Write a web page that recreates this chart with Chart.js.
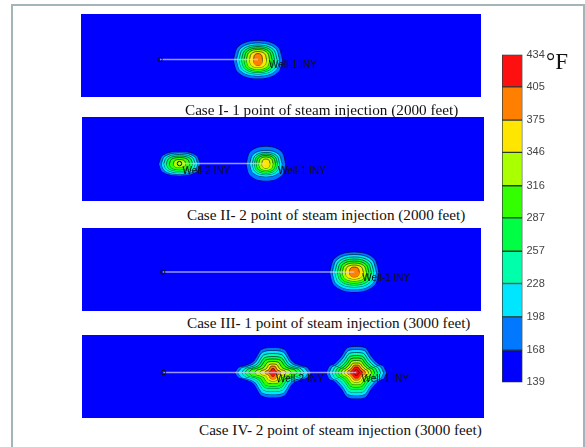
<!DOCTYPE html>
<html>
<head>
<meta charset="utf-8">
<script src="https://cdn.jsdelivr.net/npm/chart.js@4"></script>
<style>
  body { margin: 0; background: #fff; width: 585px; height: 447px; overflow: hidden; position: relative; }
  .frame { position: absolute; left: 11px; top: 4px; width: 570px; height: 460px; border: 2px solid #a3b5b8; }
  canvas { position: absolute; }
  .cap { position: absolute; font: 15.2px "Liberation Serif", "Times New Roman", serif; line-height: 15.2px; color: #111; white-space: nowrap; }
  .unit { position: absolute; left: 546px; top: 50px; font: 23px "Liberation Serif", serif; line-height: 23px; color: #111; }
</style>
</head>
<body>
<div class="frame"></div>

<canvas id="case1" width="400" height="83" style="left:81px;top:14px"></canvas>
<canvas id="case2" width="402" height="84" style="left:82px;top:117px"></canvas>
<canvas id="case3" width="399" height="83" style="left:82px;top:228px"></canvas>
<canvas id="case4" width="402" height="83" style="left:82px;top:335px"></canvas>
<canvas id="scale" width="56" height="349" style="left:497px;top:44px"></canvas>

<div class="cap" style="left:185px;top:102px">Case I- 1 point of steam injection (2000 feet)</div>
<div class="cap" style="left:187px;top:207px">Case II- 2 point of steam injection (2000 feet)</div>
<div class="cap" style="left:187px;top:315px">Case III- 1 point of steam injection (3000 feet)</div>
<div class="cap" style="left:199px;top:422px">Case IV- 2 point of steam injection (3000 feet)</div>
<div class="unit">°F</div>

<script>
// temperature levels (°F) and the colour of each band between two levels
const levels = [139, 168, 198, 228, 257, 287, 316, 346, 375, 405, 434];
const bandColors = ['#0000ff', '#0078ff', '#00e6ff', '#00ffaa', '#00ff44', '#33ff00',
    '#aaff00', '#ffe600', '#ff8000', '#ff1010'];

// shape of a hot zone: relative x position -> relative half height
const profileT = [-1, -0.9, -0.75, -0.5, -0.3, 0, 0.3, 0.5, 0.75, 0.9, 1];
const roundProfile = [0, 0.5, 0.74, 0.91, 0.97, 1, 0.97, 0.91, 0.74, 0.5, 0];
const crossProfile = [0, 0.2, 0.27, 0.46, 0.92, 1, 0.92, 0.46, 0.27, 0.2, 0];
const diamondProfile = [0, 0.24, 0.32, 0.62, 0.95, 1, 0.95, 0.62, 0.32, 0.24, 0];

// contour half widths / half heights for each level from 168 up (panel units)
const case1Rx = [24.5, 21.5, 19, 16.5, 14, 11.5, 8.5, 4.5];
const case1Ry = [19, 16.5, 14.5, 13, 11.5, 10, 8, 6];
const case2LeftRx = [20.5, 18, 15.5, 13, 10, 6];
const case2LeftRy = [12, 10.5, 9, 7.5, 6, 4];
const case2RightRx = [19.5, 16, 13.5, 11.5, 9.5, 7, 4];
const case2RightRy = [17, 13, 11, 9.5, 8, 6.5, 4.5];
const case3Rx = [24.5, 22, 19.5, 17, 14.5, 12, 9, 5];
const case3Ry = [20, 17.5, 15, 13, 11, 9, 7, 5];
const case4LeftRx = [38, 35, 31, 28, 24, 18, 13, 8, 4];
const case4LeftRy = [25, 22, 19, 16, 13.5, 11, 8.5, 6.5, 4];
const case4RightRx = [30, 27, 24, 21, 18, 15, 12, 9, 6, 3];
const case4RightRy = [26, 23, 20, 17, 14.5, 12, 9.5, 7.5, 5.5, 3];

// injection points, well start and label anchors (panel units, 400 x 83)
const case1Spots = [[177, 45.5]];
const case2Spots = [[97, 46], [183, 46]];
const case3Spots = [[273, 44]];
const case4Spots = [[190, 37.5], [273, 37.5]];
const wellStartX = [79, 97, 81, 81];
const case1Labels = [['Well-1 INY', 188, 51]];
const case2Labels = [['Well-2 INY', 100, 54], ['Well-1 INY', 195, 54]];
const case3Labels = [['Well-1 INY', 281, 50]];
const case4Labels = [['Well-2 INY', 193, 44], ['Well-1 INY', 278, 44]];

const panels = [
    {id: 'case1', spots: case1Spots, labels: case1Labels, start: wellStartX[0],
        zones: [[case1Rx, case1Ry, roundProfile]]},
    {id: 'case2', spots: case2Spots, labels: case2Labels, start: wellStartX[1],
        zones: [[case2LeftRx, case2LeftRy, roundProfile], [case2RightRx, case2RightRy, roundProfile]]},
    {id: 'case3', spots: case3Spots, labels: case3Labels, start: wellStartX[2],
        zones: [[case3Rx, case3Ry, roundProfile]]},
    {id: 'case4', spots: case4Spots, labels: case4Labels, start: wellStartX[3],
        zones: [[case4LeftRx, case4LeftRy, crossProfile], [case4RightRx, case4RightRy, diamondProfile]]}
];

const blueBackground = {
    id: 'blueBackground',
    beforeDraw(chart) {
        const {ctx, chartArea: a} = chart;
        ctx.save();
        ctx.fillStyle = '#0000ff';
        ctx.fillRect(a.left, a.top, a.right - a.left, a.bottom - a.top);
        ctx.restore();
    }
};

const wellLabels = {
    id: 'wellLabels',
    afterDatasetsDraw(chart, args, opts) {
        const {ctx, scales} = chart;
        ctx.save();
        ctx.font = '10px "Liberation Sans", Arial, sans-serif';
        ctx.fillStyle = '#111';
        ctx.textBaseline = 'middle';
        opts.items.forEach(([text, x, y]) => {
            ctx.fillText(text, scales.x.getPixelForValue(x), scales.y.getPixelForValue(y));
        });
        ctx.restore();
    }
};

panels.forEach((panel) => {
    const datasets = [];
    let order = 100;
    panel.zones.forEach(([rxs, rys, profile], z) => {
        const [cx, cy] = panel.spots[z];
        rxs.forEach((rx, i) => {
            const ry = rys[i];
            const upper = profileT.map((t, k) => ({x: cx + t * rx, y: cy - profile[k] * ry}));
            const lower = profileT.map((t, k) => ({x: cx + t * rx, y: cy + profile[k] * ry}));
            const common = {
                showLine: true,
                borderColor: 'rgba(0,0,40,0.75)',
                borderWidth: 0.8,
                pointRadius: 0,
                cubicInterpolationMode: 'monotone',
                order: order - i
            };
            datasets.push(Object.assign({data: upper, fill: '+1', backgroundColor: bandColors[i + 1]}, common));
            datasets.push(Object.assign({data: lower, fill: false}, common));
        });
        order -= 20;
    });

    // well trajectory
    const lastSpot = panel.spots[panel.spots.length - 1];
    datasets.push({
        data: [{x: panel.start, y: lastSpot[1]}, {x: lastSpot[0], y: lastSpot[1]}],
        showLine: true,
        borderColor: 'rgba(215,215,255,0.7)',
        borderWidth: 1.5,
        pointRadius: [2.2, 0],
        pointBorderColor: '#111',
        pointBorderWidth: 1,
        pointBackgroundColor: 'rgba(0,0,0,0)',
        order: 0
    });

    new Chart(document.getElementById(panel.id), {
        type: 'scatter',
        data: {datasets},
        options: {
            responsive: false,
            devicePixelRatio: 1,
            animation: false,
            layout: {padding: 0, autoPadding: false},
            scales: {
                x: {display: false, min: 0, max: 400},
                y: {display: false, min: 0, max: 83, reverse: true}
            },
            plugins: {
                legend: {display: false},
                tooltip: {enabled: false},
                wellLabels: {items: panel.labels}
            }
        },
        plugins: [blueBackground, wellLabels]
    });
});

// colour scale
new Chart(document.getElementById('scale'), {
    type: 'bar',
    data: {
        labels: [''],
        datasets: bandColors.map((c, i) => ({
            data: [[levels[i], levels[i + 1]]],
            backgroundColor: c,
            borderColor: '#2b3a35',
            borderWidth: 1,
            borderSkipped: false,
            barPercentage: 1,
            categoryPercentage: 1
        }))
    },
    options: {
        responsive: false,
        devicePixelRatio: 1,
        animation: false,
        layout: {padding: {top: 10, bottom: 10, left: 5, right: 0}},
        datasets: {bar: {grouped: false}},
        scales: {
            x: {display: false},
            y: {
                position: 'right',
                min: levels[0],
                max: levels[levels.length - 1],
                grid: {display: false, drawTicks: false},
                border: {display: false},
                afterBuildTicks(scale) { scale.ticks = levels.map((v) => ({value: v})); },
                afterFit(scale) { scale.width = 30.5; },
                ticks: {
                    padding: 4,
                    color: '#444',
                    font: {family: '"Liberation Sans", Arial, sans-serif', size: 11}
                }
            }
        },
        plugins: {legend: {display: false}, tooltip: {enabled: false}}
    }
});
</script>
</body>
</html>
